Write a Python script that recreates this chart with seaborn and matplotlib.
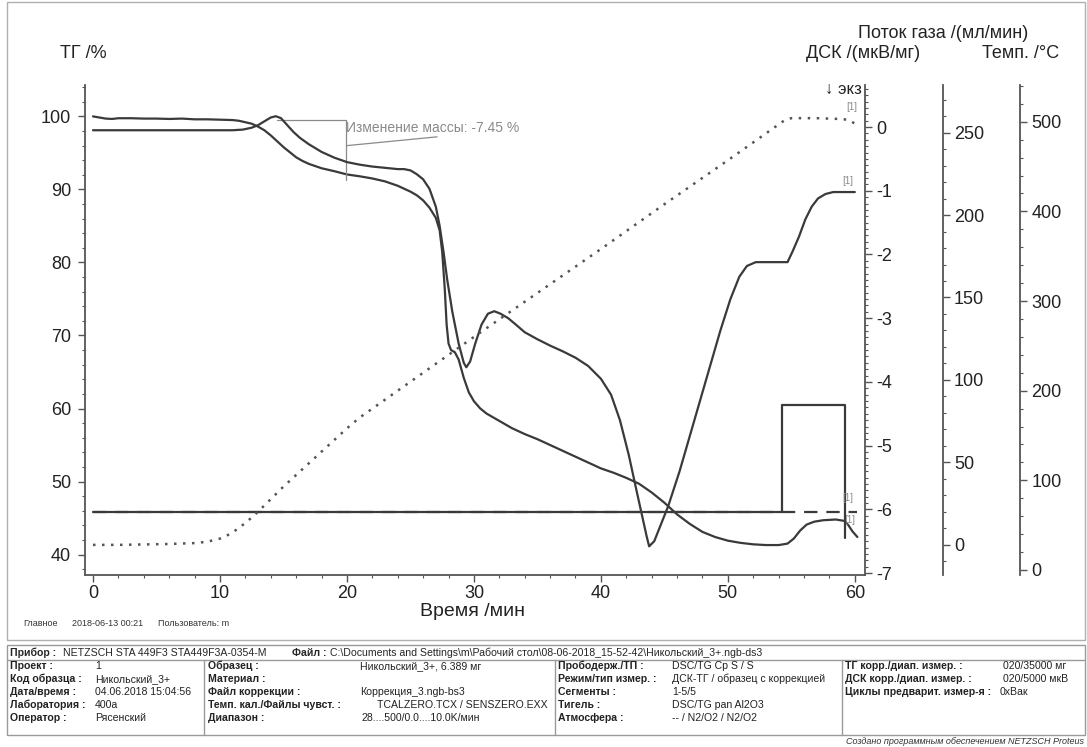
import pandas as pd
import seaborn as sns
import matplotlib.pyplot as plt
from matplotlib.lines import Line2D
from matplotlib.patches import Rectangle
from matplotlib.ticker import MultipleLocator

# TG curve, % (left axis)
tg_time = [0, 0.5, 1, 1.5, 2, 3, 4, 5, 6, 7, 8, 9, 10, 11, 11.5, 12, 12.5, 13, 13.5,
           14, 14.5, 15, 15.5, 16, 16.5, 17, 18, 19, 20, 21, 22, 23, 24, 25, 25.5, 26,
           26.5, 27, 27.3, 27.5, 27.7, 27.85, 28, 28.2, 28.5, 28.8, 29.2, 29.6, 30, 30.5,
           31, 32, 33, 34, 35, 36, 37, 38, 39, 40, 41, 42, 43, 44, 45, 46, 47, 48, 49, 50,
           51, 52, 53, 54, 54.7, 55.2, 55.7, 56.2, 56.8, 57.5, 58.5, 59.2, 59.5, 59.8, 60.2]
tg_values = [100.0, 99.85, 99.7, 99.65, 99.75, 99.75, 99.7, 99.7, 99.65, 99.7, 99.6, 99.6,
             99.55, 99.5, 99.4, 99.2, 99.0, 98.6, 98.1, 97.4, 96.6, 95.8, 95.1, 94.4, 93.9,
             93.5, 92.9, 92.5, 92.05, 91.8, 91.5, 91.1, 90.5, 89.7, 89.2, 88.5, 87.5, 86.1,
             84.4, 81.5, 76.5, 71.5, 68.9, 68.0, 67.7, 66.7, 64.2, 62.2, 61.0, 60.0, 59.3,
             58.3, 57.3, 56.5, 55.8, 55.0, 54.2, 53.4, 52.6, 51.8, 51.2, 50.5, 49.7, 48.5,
             47.1, 45.5, 44.2, 43.1, 42.4, 41.9, 41.6, 41.4, 41.3, 41.3, 41.5, 42.2, 43.3,
             44.1, 44.5, 44.7, 44.8, 44.6, 44.0, 43.2, 42.4]

# DSC curve, uV/mg
dsc_time = [0, 5, 10, 11, 11.8, 12.5, 13, 13.5, 14, 14.4, 14.8, 15.3, 15.8, 16.3, 17, 17.5,
            18, 19, 20, 21, 22, 23, 24, 24.5, 25, 25.5, 26, 26.5, 27, 27.3, 27.6, 27.9, 28.3,
            28.8, 29.2, 29.4, 29.7, 30.1, 30.6, 31.1, 31.6, 32.1, 32.7, 33.3, 34, 35, 36, 37,
            38, 39, 40, 40.8, 41.5, 42.2, 42.8, 43.3, 43.6, 43.8, 44.2, 44.7, 45.3, 46.2, 47,
            47.8, 48.6, 49.4, 50.2, 50.9, 51.5, 52.2, 53.5, 54.7, 55.1, 55.6, 56.1, 56.6,
            57.1, 57.7, 58.3, 59, 60]
dsc_values = [-0.05, -0.05, -0.05, -0.05, -0.04, -0.01, 0.03, 0.09, 0.15, 0.17, 0.14, 0.03,
              -0.08, -0.17, -0.27, -0.33, -0.39, -0.48, -0.55, -0.59, -0.62, -0.64, -0.66,
              -0.66, -0.68, -0.74, -0.82, -0.97, -1.25, -1.55, -1.95, -2.4, -2.9, -3.4, -3.7,
              -3.77, -3.68, -3.4, -3.1, -2.93, -2.89, -2.93, -3.0, -3.1, -3.22, -3.33, -3.43,
              -3.52, -3.62, -3.75, -3.95, -4.2, -4.6, -5.15, -5.7, -6.15, -6.42, -6.58, -6.5,
              -6.25, -5.95, -5.4, -4.85, -4.3, -3.75, -3.2, -2.7, -2.35, -2.18, -2.12, -2.12,
              -2.12, -1.95, -1.72, -1.45, -1.25, -1.12, -1.05, -1.02, -1.02, -1.02]

# furnace temperature, °C
temp_time = [0, 2, 4, 6, 8, 9, 10, 10.5, 11, 11.5, 12, 12.5, 13, 13.5, 14, 14.5, 15, 16, 17,
             18, 19, 20, 21, 25, 30, 35, 40, 45, 50, 53, 54, 54.5, 55, 57, 59, 59.5, 60]
temp_values = [28, 28, 28.5, 29, 30, 31.5, 35, 38, 42, 47, 52.5, 58.5, 65, 72, 79, 86, 93,
               106, 119, 132, 145, 158, 170, 210, 260, 309, 358, 408, 457, 487, 497, 502,
               504, 504, 503, 502, 498]

# gas flow, ml/min
gas_time = [0, 54.3, 54.3, 59.2, 59.2]
gas_values = [20, 20, 85, 85, 4]
gas2_time = [0, 60.2]
gas2_values = [20, 20]

# mass change step
step_start, step_end, step_level, mass_change = 14.5, 19.9, 99.5, -7.45

W, H = 1087, 747
LINE = "#3a3a3a"
GREY = "#8a8a8a"


def fx(px):
    return px / W


def fy(py):
    return 1 - py / H


sns.set_style("ticks")
plt.rcParams["font.family"] = ["Liberation Sans", "DejaVu Sans"]
plt.rcParams["axes.unicode_minus"] = False

fig = plt.figure(figsize=(W / 100, H / 100), dpi=100)
ax = fig.add_axes([fx(85), fy(575), fx(865) - fx(85), fy(85) - fy(575)])

tg_df = pd.DataFrame({"time": tg_time, "value": tg_values})
dsc_df = pd.DataFrame({"time": dsc_time, "value": dsc_values})
temp_df = pd.DataFrame({"time": temp_time, "value": temp_values})
gas_df = pd.DataFrame({"time": gas_time, "value": gas_values})
gas2_df = pd.DataFrame({"time": gas2_time, "value": gas2_values})

sns.lineplot(data=tg_df, x="time", y="value", ax=ax, color=LINE, linewidth=1.6,
             estimator=None, sort=False)
ax.set_xlim(-0.63, 60.8)
ax.set_ylim(37.2, 104.3)

ax_dsc = ax.twinx()
sns.lineplot(data=dsc_df, x="time", y="value", ax=ax_dsc, color=LINE, linewidth=1.6,
             estimator=None, sort=False)
ax_dsc.set_ylim(-7.03, 0.66)

ax_gas = ax.twinx()
ax_gas.spines["right"].set_position(("axes", 1.1))
sns.lineplot(data=gas2_df, x="time", y="value", ax=ax_gas, color=LINE, linewidth=1.6,
             estimator=None, sort=False, linestyle=(0, (6, 4)))
sns.lineplot(data=gas_df, x="time", y="value", ax=ax_gas, color=LINE, linewidth=1.6,
             estimator=None, sort=False)
ax_gas.set_ylim(-18.2, 278.8)

ax_temp = ax.twinx()
ax_temp.spines["right"].set_position(("axes", 1.199))
sns.lineplot(data=temp_df, x="time", y="value", ax=ax_temp, color="#555555", linewidth=1.8,
             estimator=None, sort=False, linestyle=(0, (1, 2.6)))
ax_temp.set_ylim(-5.6, 541)

# spines and ticks
for a in (ax, ax_dsc, ax_gas, ax_temp):
    a.set_xlabel("")
    a.set_ylabel("")
    for s in a.spines.values():
        s.set_color("#555555")
        s.set_linewidth(1.3)
ax.spines["top"].set_visible(False)
ax.spines["right"].set_visible(False)
for a in (ax_dsc, ax_gas, ax_temp):
    a.spines["top"].set_visible(False)
    a.spines["left"].set_visible(False)
    a.spines["bottom"].set_visible(False)

ax.xaxis.set_major_locator(MultipleLocator(10))
ax.xaxis.set_minor_locator(MultipleLocator(2))
ax.yaxis.set_major_locator(MultipleLocator(10))
ax.yaxis.set_minor_locator(MultipleLocator(2))
ax_dsc.yaxis.set_major_locator(MultipleLocator(1))
ax_dsc.yaxis.set_minor_locator(MultipleLocator(0.1))
ax_gas.yaxis.set_major_locator(MultipleLocator(50))
ax_gas.yaxis.set_minor_locator(MultipleLocator(10))
ax_temp.yaxis.set_major_locator(MultipleLocator(100))
ax_temp.yaxis.set_minor_locator(MultipleLocator(20))

for a in (ax, ax_dsc, ax_gas, ax_temp):
    a.tick_params(which="major", labelsize=13, length=5, width=1, color="#555555",
                  labelcolor="#222222", pad=3)
    a.tick_params(which="minor", length=2.5, width=0.8, color="#555555")
ax.tick_params(axis="y", pad=5)
ax.tick_params(axis="x", pad=2)

# axis titles
fig.text(fx(83), fy(53), "ТГ /%", ha="center", va="center", fontsize=13, color="#222222")
fig.text(fx(943), fy(33), "Поток газа /(мл/мин)", ha="center", va="center", fontsize=13,
         color="#222222")
fig.text(fx(863), fy(53), "ДСК /(мкВ/мг)", ha="center", va="center", fontsize=13,
         color="#222222")
fig.text(fx(1021), fy(53), "Темп. /°C", ha="center", va="center", fontsize=13,
         color="#222222")
fig.text(fx(862), fy(89), "↓ экз", ha="right", va="center", fontsize=12, color="#222222")
fig.text(fx(472), fy(612), "Время /мин", ha="center", va="center", fontsize=14,
         color="#222222")

# mass change annotation
ax.plot([step_start, step_end], [step_level, step_level], color=GREY, lw=0.9)
ax.plot([step_end, step_end], [step_level, step_level + mass_change - 0.8], color=GREY, lw=0.9)
ax.plot([step_end + 0.1, 27.1], [96.0, 97.2], color=GREY, lw=0.9)
ax.text(step_end, 98.4, f"Изменение массы: {mass_change:.2f} %", color=GREY, fontsize=10,
        ha="left", va="center")

# [1] end markers
for a, tt, vv, off in ((ax_dsc, dsc_time, dsc_values, (-7, 11)),
                       (ax_temp, temp_time, temp_values, (-3, 17)),
                       (ax_gas, gas2_time, gas2_values, (-10, 14)),
                       (ax, tg_time, tg_values, (-8, 17))):
    a.annotate("[1]", (tt[-1], vv[-1]), xytext=off, textcoords="offset pixels",
               fontsize=7, color=GREY, ha="center", va="center")

# footer of plot area
fig.text(fx(23), fy(623), "Главное", fontsize=6.5, color="#333333", va="center")
fig.text(fx(72), fy(623), "2018-06-13 00:21", fontsize=6.5, color="#333333", va="center")
fig.text(fx(158), fy(623), "Пользователь: m", fontsize=6.5, color="#333333", va="center")

fig.add_artist(Rectangle((fx(7), fy(640)), fx(1085) - fx(7), fy(2) - fy(640),
                         transform=fig.transFigure, fill=False, ec="#b0b0b0", lw=1))

# measurement info table
fig.add_artist(Rectangle((fx(7), fy(735)), fx(1085) - fx(7), fy(645) - fy(735),
                         transform=fig.transFigure, fill=False, ec="#9a9a9a", lw=1))
fig.add_artist(Line2D([fx(7), fx(1085)], [fy(660), fy(660)], transform=fig.transFigure,
                      color="#9a9a9a", lw=1))
for xd in (204, 555, 842):
    fig.add_artist(Line2D([fx(xd), fx(xd)], [fy(660), fy(735)], transform=fig.transFigure,
                          color="#9a9a9a", lw=1))

TFS = 7.6
fig.text(fx(10), fy(653), "Прибор :", fontsize=TFS, weight="bold", va="center")
fig.text(fx(63), fy(653), "NETZSCH STA 449F3 STA449F3A-0354-M", fontsize=TFS, va="center")
fig.text(fx(292), fy(653), "Файл :", fontsize=TFS, weight="bold", va="center")
fig.text(fx(330), fy(653),
         "C:\\Documents and Settings\\m\\Рабочий стол\\08-06-2018_15-52-42\\Никольский_3+.ngb-ds3",
         fontsize=TFS, va="center")

row_y = [666, 679, 692, 705, 718]
col1_labels = ["Проект :", "Код образца :", "Дата/время :", "Лаборатория :", "Оператор :"]
col1_values = ["1", "Никольский_3+", "04.06.2018 15:04:56", "400a", "Рясенский"]
col2_labels = ["Образец :", "Материал :", "Файл коррекции :", "Темп. кал./Файлы чувст. :",
               "Диапазон :"]
col2_values = ["Никольский_3+, 6.389 мг", "", "Коррекция_3.ngb-bs3",
               "TCALZERO.TCX / SENSZERO.EXX", "28....500/0.0....10.0K/мин"]
col3_labels = ["Прободерж./ТП :", "Режим/тип измер. :", "Сегменты :", "Тигель :",
               "Атмосфера :"]
col3_values = ["DSC/TG Cp S / S", "ДСК-ТГ / образец с коррекцией", "1-5/5",
               "DSC/TG pan Al2O3", "-- / N2/O2 / N2/O2"]
col4_labels = ["ТГ корр./диап. измер. :", "ДСК корр./диап. измер. :",
               "Циклы предварит. измер-я :"]
col4_values = ["020/35000 мг", "020/5000 мкВ", "0xВак"]

for labels, values, lx, vx in ((col1_labels, col1_values, 10, [95] * 5),
                               (col2_labels, col2_values, 208, [360, 360, 360, 377, 362]),
                               (col3_labels, col3_values, 558, [672] * 5),
                               (col4_labels, col4_values, 845, [1003, 1003, 1000])):
    for i, (lab, val) in enumerate(zip(labels, values)):
        fig.text(fx(lx), fy(row_y[i]), lab, fontsize=TFS, weight="bold", va="center",
                 color="#222222")
        fig.text(fx(vx[i]), fy(row_y[i]), val, fontsize=TFS, va="center", color="#222222")

fig.text(fx(1084), fy(742), "Создано программным обеспечением NETZSCH Proteus",
         fontsize=6.5, style="italic", ha="right", va="center", color="#333333")

fig.savefig("out.png", dpi=100)
